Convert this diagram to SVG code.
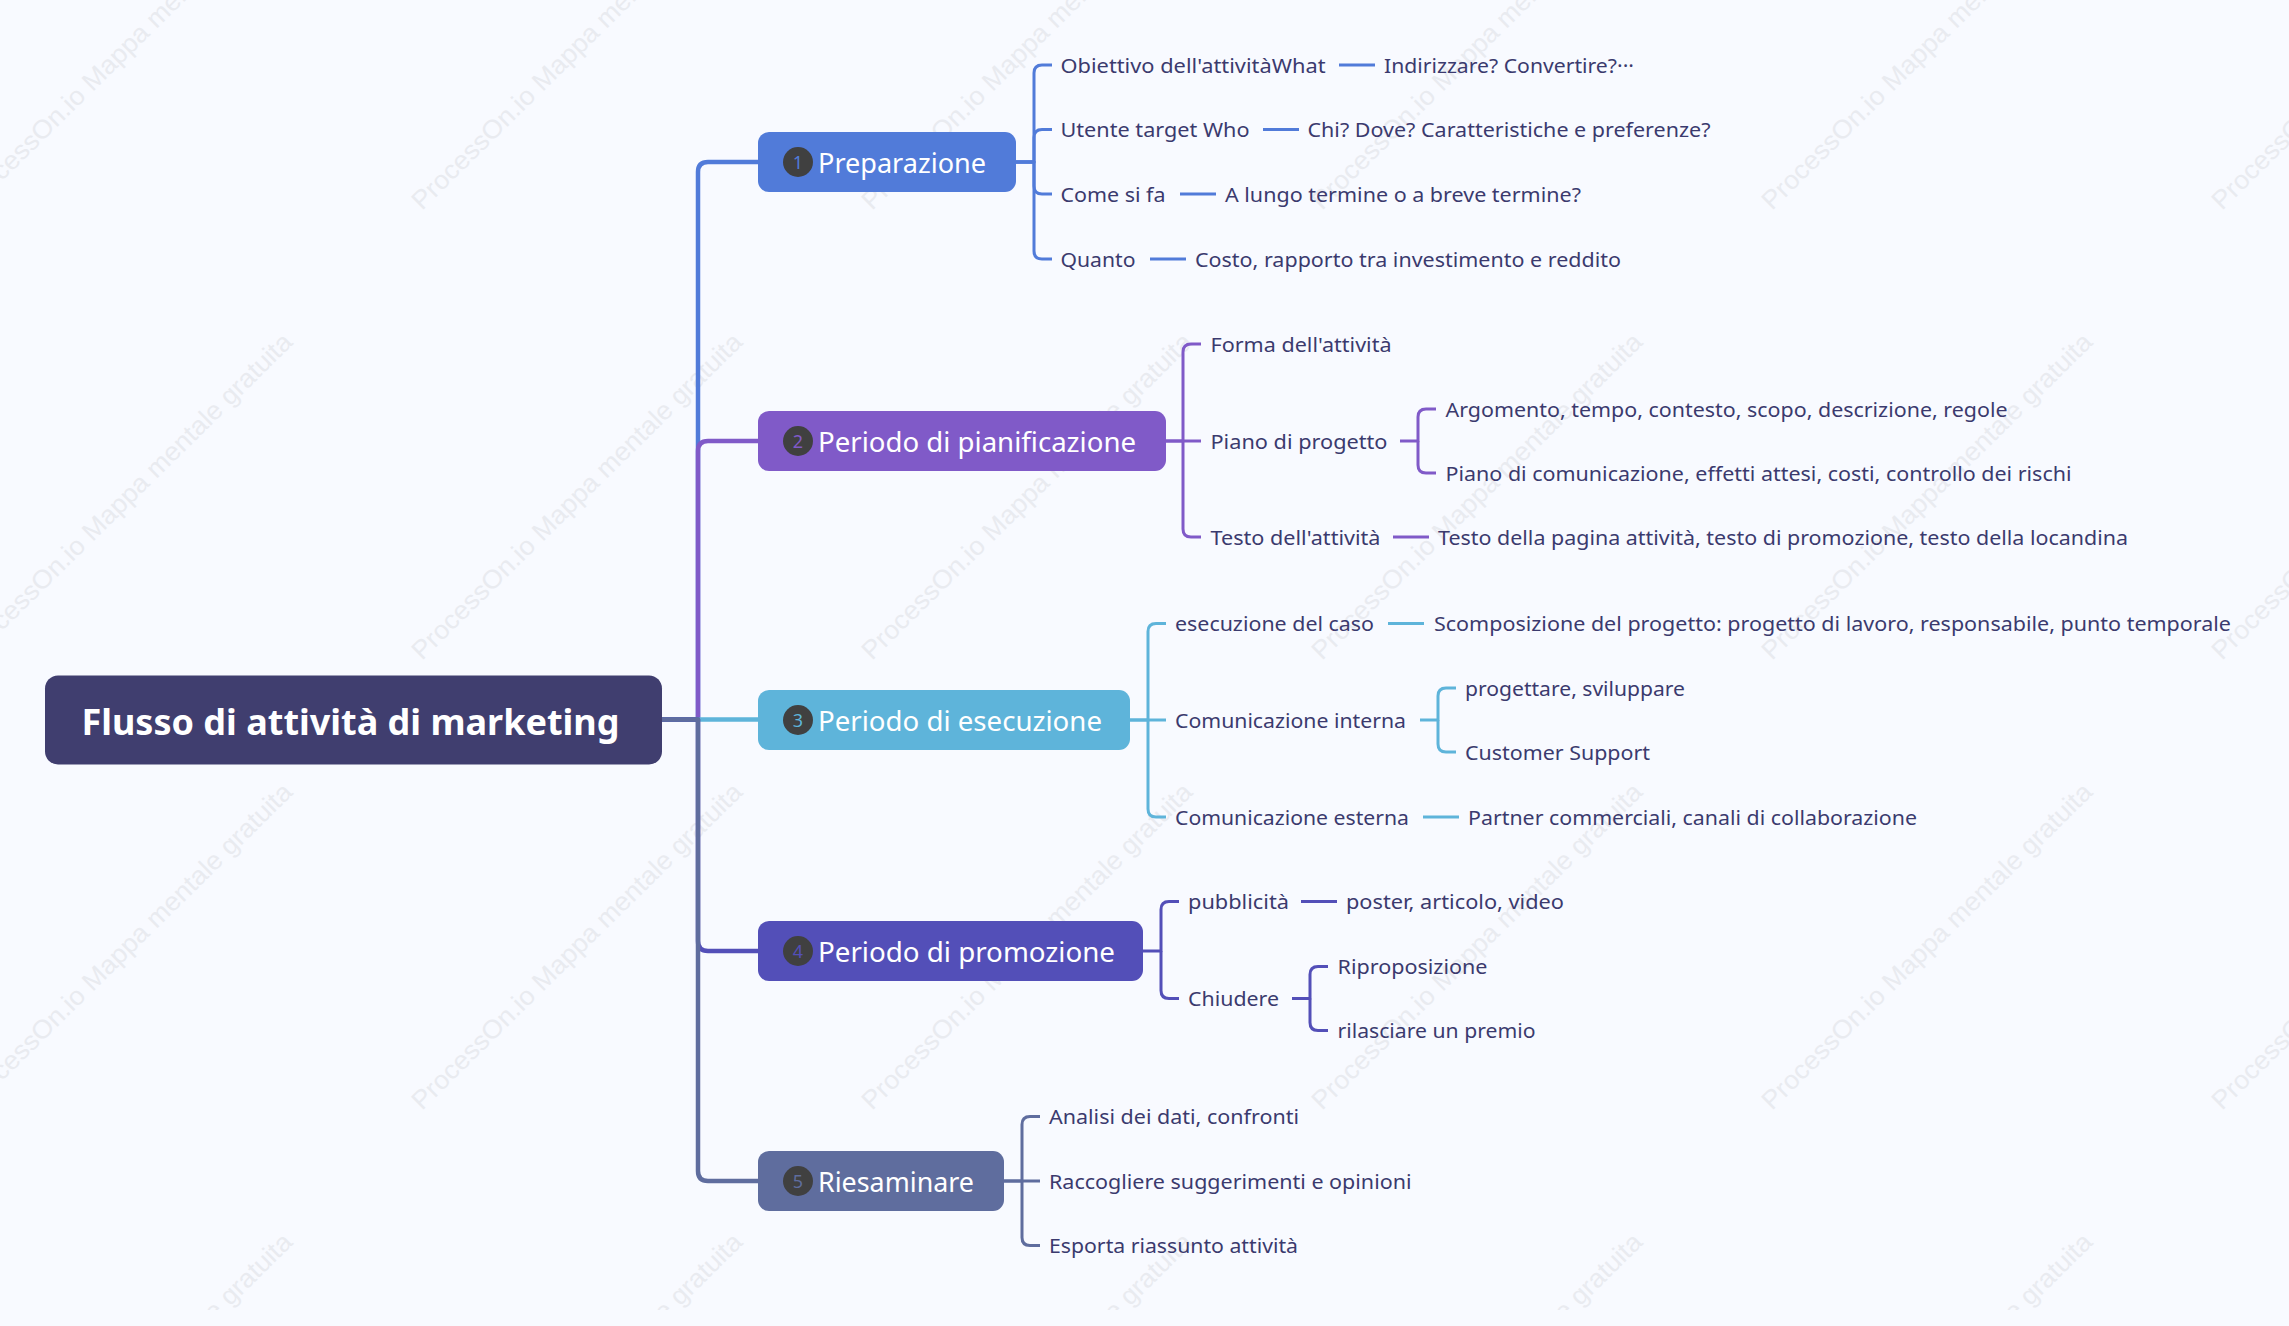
<svg xmlns="http://www.w3.org/2000/svg" width="2289" height="1326" viewBox="0 0 2289 1326">
<style>
.bg{fill:#f8faff}
.wm{font-family:"Liberation Sans",Arial,sans-serif;font-size:26px;fill:#e9ebf0}
.c{fill:none;stroke-linecap:butt;stroke-linejoin:round}
.t{stroke-width:4.5}.b{stroke-width:3}
.c1{stroke:#517bd9}.c2{stroke:#805ac8}.c3{stroke:#5eb4da}.c4{stroke:#534fb8}.c5{stroke:#5f6d9e}
.i{font-family:"Noto Sans","Open Sans",sans-serif;font-size:20px;fill:#3b3a6e}
.n{font-family:"Noto Sans","Open Sans",sans-serif;font-size:28px;fill:#fff}
.r{font-family:"Noto Sans","Open Sans",sans-serif;font-size:36px;font-weight:700;fill:#fff}
.d{font-family:"Noto Sans","Open Sans",sans-serif;font-size:18px;text-anchor:middle}
.dot{fill:#404040}
</style>
<defs>
<clipPath id="wmclip"><rect x="0" y="0" width="2289" height="1310"/></clipPath>
<g id="wmt"><text class="wm" transform="rotate(-44.6)" x="0" y="0" textLength="452" lengthAdjust="spacingAndGlyphs">ProcessOn.io Mappa mentale gratuita</text></g>
</defs>
<rect class="bg" x="0" y="0" width="2289" height="1326"/>
<g id="watermark" clip-path="url(#wmclip)">
<use href="#wmt" x="-28" y="211"/><use href="#wmt" x="422" y="211"/><use href="#wmt" x="872" y="211"/><use href="#wmt" x="1322" y="211"/><use href="#wmt" x="1772" y="211"/><use href="#wmt" x="2222" y="211"/>
<use href="#wmt" x="-28" y="661"/><use href="#wmt" x="422" y="661"/><use href="#wmt" x="872" y="661"/><use href="#wmt" x="1322" y="661"/><use href="#wmt" x="1772" y="661"/><use href="#wmt" x="2222" y="661"/>
<use href="#wmt" x="-28" y="1111"/><use href="#wmt" x="422" y="1111"/><use href="#wmt" x="872" y="1111"/><use href="#wmt" x="1322" y="1111"/><use href="#wmt" x="1772" y="1111"/><use href="#wmt" x="2222" y="1111"/>
<use href="#wmt" x="-28" y="1561"/><use href="#wmt" x="422" y="1561"/><use href="#wmt" x="872" y="1561"/><use href="#wmt" x="1322" y="1561"/><use href="#wmt" x="1772" y="1561"/>
</g>
<g id="connectors">
<path class="c t c1" d="M662,719.5H698V172Q698,162 708,162H759"/>
<path class="c t c2" d="M662,719.5H698V451Q698,441 708,441H759"/>
<path class="c t c3" d="M662,719.5H759"/>
<path class="c t c4" d="M662,719.5H698V941Q698,951 708,951H759"/>
<path class="c t c5" d="M662,719.5H698V1171Q698,1181 708,1181H759"/>

<path class="c b c1" d="M1015,162H1034V73Q1034,65 1042,65H1052"/>
<path class="c b c1" d="M1015,162H1034V137.5Q1034,129.5 1042,129.5H1052"/>
<path class="c b c1" d="M1015,162H1034V186Q1034,194 1042,194H1052"/>
<path class="c b c1" d="M1015,162H1034V251Q1034,259 1042,259H1052"/>
<path class="c b c1" d="M1339,65H1375M1263,129.5H1299M1180,194H1216M1150,259H1186"/>

<path class="c b c2" d="M1166,441H1183V352Q1183,344 1191,344H1201"/>
<path class="c b c2" d="M1166,441H1201"/>
<path class="c b c2" d="M1183,441V529Q1183,537 1191,537H1201"/>
<path class="c b c2" d="M1400,441H1418V417Q1418,409 1426,409H1436"/>
<path class="c b c2" d="M1418,441V465Q1418,473 1426,473H1436"/>
<path class="c b c2" d="M1393,537H1429"/>

<path class="c b c3" d="M1129,720H1148V631.5Q1148,623.5 1156,623.5H1166"/>
<path class="c b c3" d="M1129,720H1166"/>
<path class="c b c3" d="M1148,720V809Q1148,817 1156,817H1166"/>
<path class="c b c3" d="M1388,623.5H1424M1423,817H1459"/>
<path class="c b c3" d="M1420,720H1438V696Q1438,688 1446,688H1456"/>
<path class="c b c3" d="M1438,720V744Q1438,752 1446,752H1456"/>

<path class="c b c4" d="M1143,951H1161V909.5Q1161,901.5 1169,901.5H1179"/>
<path class="c b c4" d="M1161,951V990.5Q1161,998.5 1169,998.5H1179"/>
<path class="c b c4" d="M1301,901.5H1337"/>
<path class="c b c4" d="M1292,998.5H1310V974.5Q1310,966.5 1318,966.5H1328"/>
<path class="c b c4" d="M1310,998.5V1022.5Q1310,1030.5 1318,1030.5H1328"/>

<path class="c b c5" d="M1003,1181H1022V1124.5Q1022,1116.5 1030,1116.5H1040"/>
<path class="c b c5" d="M1003,1181H1040"/>
<path class="c b c5" d="M1022,1181V1237.5Q1022,1245.5 1030,1245.5H1040"/>
</g>

<g id="root"><rect x="45" y="675.5" width="617" height="89" rx="13" fill="#403e6f"/><text class="r" x="81.5" y="735" textLength="538" lengthAdjust="spacingAndGlyphs">Flusso di attività di marketing</text></g>

<g id="node1"><rect x="758" y="132" width="258" height="60" rx="11" fill="#517bd9"/><circle class="dot" cx="798" cy="162" r="15"/><text class="d" x="798" y="168.5" fill="#517bd9">1</text><text class="n" x="818" y="172.5" textLength="168" lengthAdjust="spacingAndGlyphs">Preparazione</text></g>
<g id="node2"><rect x="758" y="411" width="408" height="60" rx="11" fill="#805ac8"/><circle class="dot" cx="798" cy="441" r="15"/><text class="d" x="798" y="447.5" fill="#805ac8">2</text><text class="n" x="818" y="451.5" textLength="318" lengthAdjust="spacingAndGlyphs">Periodo di pianificazione</text></g>
<g id="node3"><rect x="758" y="690" width="372" height="60" rx="11" fill="#5eb4da"/><circle class="dot" cx="798" cy="720" r="15"/><text class="d" x="798" y="726.5" fill="#5eb4da">3</text><text class="n" x="818" y="730.5" textLength="284" lengthAdjust="spacingAndGlyphs">Periodo di esecuzione</text></g>
<g id="node4"><rect x="758" y="921" width="385" height="60" rx="11" fill="#534fb8"/><circle class="dot" cx="798" cy="951" r="15"/><text class="d" x="798" y="957.5" fill="#534fb8">4</text><text class="n" x="818" y="961.5" textLength="297" lengthAdjust="spacingAndGlyphs">Periodo di promozione</text></g>
<g id="node5"><rect x="758" y="1151" width="246" height="60" rx="11" fill="#5f6d9e"/><circle class="dot" cx="798" cy="1181" r="15"/><text class="d" x="798" y="1187.5" fill="#5f6d9e">5</text><text class="n" x="818" y="1191.5" textLength="156" lengthAdjust="spacingAndGlyphs">Riesaminare</text></g>

<g id="n1-1"><text class="i" x="1060.5" y="72.5" textLength="265" lengthAdjust="spacingAndGlyphs">Obiettivo dell'attivitàWhat</text></g>
<g id="n1-1-1"><text class="i" x="1384" y="72.5" textLength="250" lengthAdjust="spacingAndGlyphs">Indirizzare? Convertire?···</text></g>
<g id="n1-2"><text class="i" x="1060.5" y="137" textLength="189" lengthAdjust="spacingAndGlyphs">Utente target Who</text></g>
<g id="n1-2-1"><text class="i" x="1307.5" y="137" textLength="403" lengthAdjust="spacingAndGlyphs">Chi? Dove? Caratteristiche e preferenze?</text></g>
<g id="n1-3"><text class="i" x="1060.5" y="201.5" textLength="105" lengthAdjust="spacingAndGlyphs">Come si fa</text></g>
<g id="n1-3-1"><text class="i" x="1225" y="201.5" textLength="356" lengthAdjust="spacingAndGlyphs">A lungo termine o a breve termine?</text></g>
<g id="n1-4"><text class="i" x="1060.5" y="266.5" textLength="75" lengthAdjust="spacingAndGlyphs">Quanto</text></g>
<g id="n1-4-1"><text class="i" x="1195" y="266.5" textLength="426" lengthAdjust="spacingAndGlyphs">Costo, rapporto tra investimento e reddito</text></g>

<g id="n2-1"><text class="i" x="1210.5" y="351.5" textLength="181" lengthAdjust="spacingAndGlyphs">Forma dell'attività</text></g>
<g id="n2-2"><text class="i" x="1210.5" y="448.5" textLength="177" lengthAdjust="spacingAndGlyphs">Piano di progetto</text></g>
<g id="n2-2-1"><text class="i" x="1445.5" y="416.5" textLength="562" lengthAdjust="spacingAndGlyphs">Argomento, tempo, contesto, scopo, descrizione, regole</text></g>
<g id="n2-2-2"><text class="i" x="1445.5" y="480.5" textLength="626" lengthAdjust="spacingAndGlyphs">Piano di comunicazione, effetti attesi, costi, controllo dei rischi</text></g>
<g id="n2-3"><text class="i" x="1210.5" y="545" textLength="170" lengthAdjust="spacingAndGlyphs">Testo dell'attività</text></g>
<g id="n2-3-1"><text class="i" x="1438" y="545" textLength="690" lengthAdjust="spacingAndGlyphs">Testo della pagina attività, testo di promozione, testo della locandina</text></g>

<g id="n3-1"><text class="i" x="1175" y="630.5" textLength="199" lengthAdjust="spacingAndGlyphs">esecuzione del caso</text></g>
<g id="n3-1-1"><text class="i" x="1434" y="630.5" textLength="797" lengthAdjust="spacingAndGlyphs">Scomposizione del progetto: progetto di lavoro, responsabile, punto temporale</text></g>
<g id="n3-2"><text class="i" x="1175" y="727.5" textLength="231" lengthAdjust="spacingAndGlyphs">Comunicazione interna</text></g>
<g id="n3-2-1"><text class="i" x="1465" y="695.5" textLength="220" lengthAdjust="spacingAndGlyphs">progettare, sviluppare</text></g>
<g id="n3-2-2"><text class="i" x="1465" y="759.5" textLength="185" lengthAdjust="spacingAndGlyphs">Customer Support</text></g>
<g id="n3-3"><text class="i" x="1175" y="824.5" textLength="234" lengthAdjust="spacingAndGlyphs">Comunicazione esterna</text></g>
<g id="n3-3-1"><text class="i" x="1468" y="824.5" textLength="449" lengthAdjust="spacingAndGlyphs">Partner commerciali, canali di collaborazione</text></g>

<g id="n4-1"><text class="i" x="1188" y="909" textLength="101" lengthAdjust="spacingAndGlyphs">pubblicità</text></g>
<g id="n4-1-1"><text class="i" x="1346" y="909" textLength="218" lengthAdjust="spacingAndGlyphs">poster, articolo, video</text></g>
<g id="n4-2"><text class="i" x="1188" y="1006" textLength="91" lengthAdjust="spacingAndGlyphs">Chiudere</text></g>
<g id="n4-2-1"><text class="i" x="1337.5" y="974" textLength="150" lengthAdjust="spacingAndGlyphs">Riproposizione</text></g>
<g id="n4-2-2"><text class="i" x="1337.5" y="1038" textLength="198" lengthAdjust="spacingAndGlyphs">rilasciare un premio</text></g>

<g id="n5-1"><text class="i" x="1049" y="1124" textLength="250" lengthAdjust="spacingAndGlyphs">Analisi dei dati, confronti</text></g>
<g id="n5-2"><text class="i" x="1049" y="1188.5" textLength="362.5" lengthAdjust="spacingAndGlyphs">Raccogliere suggerimenti e opinioni</text></g>
<g id="n5-3"><text class="i" x="1049" y="1253" textLength="249" lengthAdjust="spacingAndGlyphs">Esporta riassunto attività</text></g>
</svg>
